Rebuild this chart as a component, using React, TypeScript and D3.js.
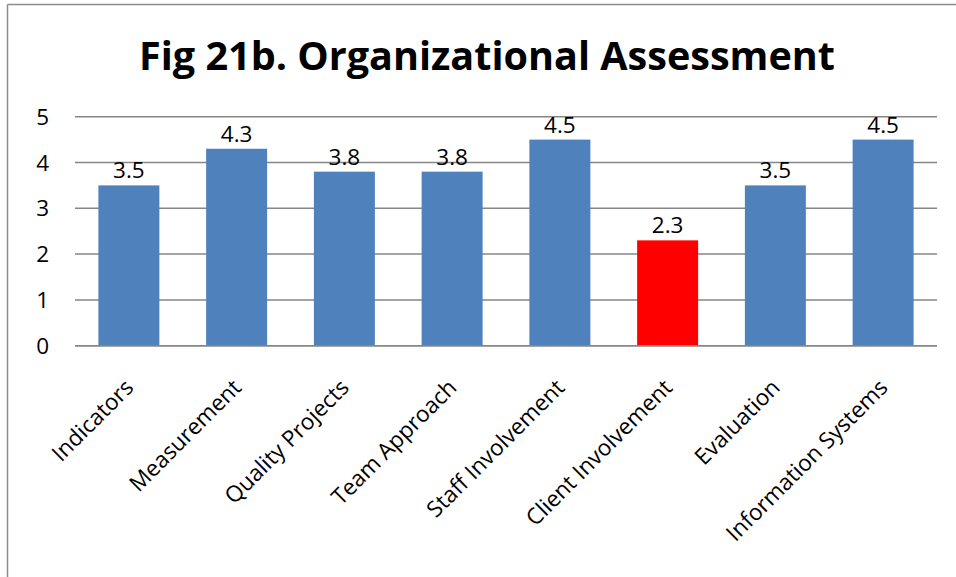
import React from "react";
import * as d3 from "d3";

const categories = [
  "Indicators",
  "Measurement",
  "Quality Projects",
  "Team Approach",
  "Staff Involvement",
  "Client Involvement",
  "Evaluation",
  "Information Systems",
];
const values = [3.5, 4.3, 3.8, 3.8, 4.5, 2.3, 3.5, 4.5];
const highlighted = ["Client Involvement"];
const yTicks = [0, 1, 2, 3, 4, 5];
const title = "Fig 21b. Organizational Assessment";

const W = 956;
const H = 577;
const FONT = "'Open Sans', 'Liberation Sans', sans-serif";

export default function App() {
  const x = d3.scaleBand<string>().domain(categories).range([75, 937]).paddingInner(0.434).paddingOuter(0.217);
  const y = d3.scaleLinear().domain([0, 5]).range([345.7, 116.7]);

  return (
    <svg
      width={W}
      height={H}
      viewBox={`0 0 ${W} ${H}`}
      style={{ position: "absolute", left: 0, top: 0, background: "#fff" }}
    >
      <rect x={0} y={0} width={W} height={H} fill="#fff" />
      {/* chart border (cropped at right/bottom) */}
      <line x1={7.5} y1={4.5} x2={W + 5} y2={4.5} stroke="#8c8c8c" strokeWidth={1.5} />
      <line x1={7.5} y1={4.5} x2={7.5} y2={H + 5} stroke="#8c8c8c" strokeWidth={1.5} />

      <text
        x={487}
        y={70}
        textAnchor="middle"
        fontFamily={FONT}
        fontWeight="bold"
        fontSize={39}
        textLength={696}
        lengthAdjust="spacingAndGlyphs"
        fill="#000"
      >
        {title}
      </text>

      {yTicks.map((t) => (
        <g key={t}>
          <line x1={75} x2={937} y1={y(t)} y2={y(t)} stroke="#868686" strokeWidth={1.5} />
          <text
            x={49}
            y={y(t)}
            dy="0.36em"
            textAnchor="end"
            fontFamily={FONT}
            fontSize={22.5}
            fill="#000"
          >
            {t}
          </text>
        </g>
      ))}

      {categories.map((c, i) => {
        const v = values[i];
        const bx = x(c)!;
        const bw = x.bandwidth();
        return (
          <g key={c}>
            <rect
              x={bx}
              y={y(v)}
              width={bw}
              height={y(0) - y(v)}
              fill={highlighted.includes(c) ? "#ff0000" : "#4f81bd"}
            />
            <text
              x={bx + bw / 2}
              y={y(v) - 7}
              textAnchor="middle"
              fontFamily={FONT}
              fontSize={22.5}
              fill="#000"
            >
              {v.toFixed(1)}
            </text>
          </g>
        );
      })}

      {/* redraw zero axis line on top of bars */}
      <line x1={75} x2={937} y1={y(0)} y2={y(0)} stroke="#868686" strokeWidth={1.5} />

      {categories.map((c) => {
        const cx = x(c)! + x.bandwidth() / 2 + 6;
        const cy = 389;
        return (
          <text
            key={c}
            transform={`translate(${cx},${cy}) rotate(-45)`}
            textAnchor="end"
            fontFamily={FONT}
            fontSize={22.5}
            fill="#000"
          >
            {c}
          </text>
        );
      })}
    </svg>
  );
}
